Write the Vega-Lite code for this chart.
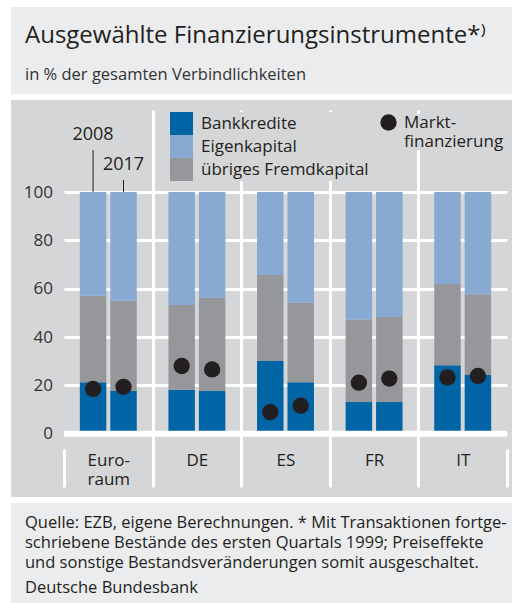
{
  "$schema": "https://vega.github.io/schema/vega-lite/v6.json",
  "background": "white",
  "padding": {"left": 11, "top": 7, "right": 5, "bottom": 1},
  "spacing": 6,
  "config": {
    "font": "Open Sans",
    "view": {"stroke": null},
    "title": {"fontWeight": "normal"}
  },
  "datasets": {
    "anteile": [
      {"land": "Euroraum", "jahr": "2008", "typ": "Bankkredite", "wert": 21.3},
      {"land": "Euroraum", "jahr": "2008", "typ": "übriges Fremdkapital", "wert": 35.8},
      {"land": "Euroraum", "jahr": "2008", "typ": "Eigenkapital", "wert": 42.9},
      {"land": "Euroraum", "jahr": "2017", "typ": "Bankkredite", "wert": 17.7},
      {"land": "Euroraum", "jahr": "2017", "typ": "übriges Fremdkapital", "wert": 37.3},
      {"land": "Euroraum", "jahr": "2017", "typ": "Eigenkapital", "wert": 45.0},
      {"land": "DE", "jahr": "2008", "typ": "Bankkredite", "wert": 18.2},
      {"land": "DE", "jahr": "2008", "typ": "übriges Fremdkapital", "wert": 35.0},
      {"land": "DE", "jahr": "2008", "typ": "Eigenkapital", "wert": 46.8},
      {"land": "DE", "jahr": "2017", "typ": "Bankkredite", "wert": 17.7},
      {"land": "DE", "jahr": "2017", "typ": "übriges Fremdkapital", "wert": 38.6},
      {"land": "DE", "jahr": "2017", "typ": "Eigenkapital", "wert": 43.7},
      {"land": "ES", "jahr": "2008", "typ": "Bankkredite", "wert": 30.1},
      {"land": "ES", "jahr": "2008", "typ": "übriges Fremdkapital", "wert": 35.6},
      {"land": "ES", "jahr": "2008", "typ": "Eigenkapital", "wert": 34.3},
      {"land": "ES", "jahr": "2017", "typ": "Bankkredite", "wert": 21.3},
      {"land": "ES", "jahr": "2017", "typ": "übriges Fremdkapital", "wert": 32.9},
      {"land": "ES", "jahr": "2017", "typ": "Eigenkapital", "wert": 45.8},
      {"land": "FR", "jahr": "2008", "typ": "Bankkredite", "wert": 13.1},
      {"land": "FR", "jahr": "2008", "typ": "übriges Fremdkapital", "wert": 34.1},
      {"land": "FR", "jahr": "2008", "typ": "Eigenkapital", "wert": 52.8},
      {"land": "FR", "jahr": "2017", "typ": "Bankkredite", "wert": 13.1},
      {"land": "FR", "jahr": "2017", "typ": "übriges Fremdkapital", "wert": 35.2},
      {"land": "FR", "jahr": "2017", "typ": "Eigenkapital", "wert": 51.7},
      {"land": "IT", "jahr": "2008", "typ": "Bankkredite", "wert": 28.3},
      {"land": "IT", "jahr": "2008", "typ": "übriges Fremdkapital", "wert": 33.6},
      {"land": "IT", "jahr": "2008", "typ": "Eigenkapital", "wert": 38.1},
      {"land": "IT", "jahr": "2017", "typ": "Bankkredite", "wert": 24.3},
      {"land": "IT", "jahr": "2017", "typ": "übriges Fremdkapital", "wert": 33.4},
      {"land": "IT", "jahr": "2017", "typ": "Eigenkapital", "wert": 42.3}
    ],
    "markt": [
      {"land": "Euroraum", "jahr": "2008", "wert": 18.5},
      {"land": "Euroraum", "jahr": "2017", "wert": 19.4},
      {"land": "DE", "jahr": "2008", "wert": 28.0},
      {"land": "DE", "jahr": "2017", "wert": 26.6},
      {"land": "ES", "jahr": "2008", "wert": 8.9},
      {"land": "ES", "jahr": "2017", "wert": 11.6},
      {"land": "FR", "jahr": "2008", "wert": 21.1},
      {"land": "FR", "jahr": "2017", "wert": 22.8},
      {"land": "IT", "jahr": "2008", "wert": 23.3},
      {"land": "IT", "jahr": "2017", "wert": 23.9}
    ]
  },
  "vconcat": [
    {
      "width": 501,
      "height": 87,
      "view": {"fill": "#ebecee", "stroke": null},
      "title": {
        "text": "Ausgewählte Finanzierungsinstrumente*⁾",
        "subtitle": "in % der gesamten Verbindlichkeiten",
        "anchor": "start",
        "frame": "group",
        "orient": "top",
        "dx": 14,
        "offset": -76,
        "fontSize": 24,
        "fontWeight": "normal",
        "color": "#231f20",
        "subtitleFontSize": 16.5,
        "subtitleColor": "#333333",
        "subtitlePadding": 19
      },
      "data": {"values": [{"t": ""}]},
      "mark": {"type": "text"},
      "encoding": {"text": {"field": "t", "type": "nominal"}}
    },
    {
      "width": 501,
      "height": 397,
      "view": {"fill": "#d5d6d8", "stroke": null},
      "encoding": {
        "x": {
          "field": "land",
          "type": "nominal",
          "sort": ["Euroraum", "DE", "ES", "FR", "IT"],
          "scale": {"range": [53, 496], "paddingInner": 0, "paddingOuter": 0},
          "axis": {
            "title": null,
            "orient": "bottom",
            "offset": -10,
            "domain": false,
            "tickBand": "extent",
            "ticks": true,
            "tickSize": -38,
            "tickColor": "white",
            "tickWidth": 3,
            "grid": true,
            "gridColor": "white",
            "gridWidth": 3,
            "gridOpacity": {"condition": {"test": "datum.index === 1 || datum.index === -1", "value": 0}, "value": 1},
            "labelAngle": 0,
            "labelFontSize": 17,
            "labelColor": "#231f20",
            "labelPadding": 3,
            "labelBaseline": "top",
            "labelLineHeight": 19,
            "labelExpr": "datum.value === 'Euroraum' ? ['Euro-', 'raum'] : datum.label"
          }
        },
        "y": {
          "type": "quantitative",
          "scale": {"domain": [-22.05, 133.1], "range": [387, 12], "nice": false, "zero": false},
          "axis": {
            "title": null,
            "values": [0, 20, 40, 60, 80, 100],
            "domain": false,
            "ticks": false,
            "tickSize": 0,
            "labelPadding": -41.5,
            "labelAlign": "right",
            "labelBaseline": "middle",
            "labelFlush": false,
            "labelFontSize": 17,
            "labelColor": "#333333",
            "grid": true,
            "gridColor": "white",
            "gridWidth": 3
          }
        }
      },
      "layer": [
        {
          "data": {"name": "anteile"},
          "transform": [
            {"calculate": "indexof(['Bankkredite', 'übriges Fremdkapital', 'Eigenkapital'], datum.typ)", "as": "rang"}
          ],
          "mark": {"type": "bar"},
          "encoding": {
            "xOffset": {"field": "jahr", "type": "nominal", "scale": {"paddingInner": 0.13, "paddingOuter": 0.52}},
            "y": {"field": "wert", "type": "quantitative", "stack": "zero"},
            "order": {"field": "rang", "type": "quantitative"},
            "color": {
              "field": "typ",
              "type": "nominal",
              "scale": {
                "domain": ["Bankkredite", "Eigenkapital", "übriges Fremdkapital"],
                "range": ["#0064a5", "#88a9d2", "#96979a"]
              },
              "legend": {
                "title": null,
                "orient": "none",
                "legendX": 159,
                "legendY": 105,
                "symbolType": "square",
                "symbolSize": 529,
                "symbolStrokeWidth": 0,
                "symbolOpacity": 1,
                "labelFontSize": 17,
                "labelOffset": 8,
                "labelLimit": 0,
                "labelColor": "#231f20",
                "rowPadding": 0,
                "padding": 0,
                "fillColor": "#d5d6d8"
              }
            }
          }
        },
        {
          "data": {"name": "markt"},
          "transform": [{"filter": "datum.jahr === '2008'"}],
          "mark": {"type": "tick", "color": "white", "size": 88.6, "thickness": 6, "opacity": 1},
          "encoding": {
            "y": {"datum": 0, "type": "quantitative"}
          }
        },
        {
          "data": {"name": "markt"},
          "mark": {"type": "point", "filled": true, "size": 266, "opacity": 1, "color": "#231f20", "strokeWidth": 0},
          "encoding": {
            "xOffset": {"field": "jahr", "type": "nominal"},
            "y": {"field": "wert", "type": "quantitative"},
            "shape": {
              "datum": "Marktfinanzierung",
              "scale": {"range": ["circle"]},
              "legend": {
                "title": null,
                "orient": "none",
                "legendX": 369,
                "legendY": 107,
                "symbolSize": 266,
                "symbolFillColor": "#231f20",
                "symbolStrokeWidth": 0,
                "symbolOpacity": 1,
                "labelFontSize": 17,
                "labelOffset": 7,
                "labelLineHeight": 20,
                "labelLimit": 0,
                "labelColor": "#231f20",
                "labelExpr": "['Markt-', 'finanzierung']",
                "padding": 0,
                "fillColor": "#d5d6d8"
              }
            }
          }
        },
        {
          "data": {"name": "markt"},
          "transform": [{"filter": "datum.land === 'Euroraum' && datum.jahr === '2008'"}],
          "mark": {"type": "rule", "color": "#231f20", "strokeWidth": 1},
          "encoding": {
            "xOffset": {"field": "jahr", "type": "nominal"},
            "y": {"datum": 100, "type": "quantitative"},
            "y2": {"datum": 117.4}
          }
        },
        {
          "data": {"name": "markt"},
          "transform": [{"filter": "datum.land === 'Euroraum' && datum.jahr === '2017'"}],
          "mark": {"type": "rule", "color": "#231f20", "strokeWidth": 1},
          "encoding": {
            "xOffset": {"field": "jahr", "type": "nominal"},
            "y": {"datum": 100, "type": "quantitative"},
            "y2": {"datum": 105}
          }
        },
        {
          "data": {"name": "markt"},
          "transform": [{"filter": "datum.land === 'Euroraum' && datum.jahr === '2008'"}],
          "mark": {"type": "text", "fontSize": 18, "color": "#231f20", "baseline": "middle"},
          "encoding": {
            "xOffset": {"field": "jahr", "type": "nominal"},
            "y": {"datum": 123.4, "type": "quantitative"},
            "text": {"field": "jahr", "type": "nominal"}
          }
        },
        {
          "data": {"name": "markt"},
          "transform": [{"filter": "datum.land === 'Euroraum' && datum.jahr === '2017'"}],
          "mark": {"type": "text", "fontSize": 18, "color": "#231f20", "baseline": "middle"},
          "encoding": {
            "xOffset": {"field": "jahr", "type": "nominal"},
            "y": {"datum": 111.2, "type": "quantitative"},
            "text": {"field": "jahr", "type": "nominal"}
          }
        }
      ]
    },
    {
      "width": 501,
      "height": 100,
      "view": {"fill": "#ebecee", "stroke": null},
      "title": {
        "text": [
          "Quelle: EZB, eigene Berechnungen. * Mit Transaktionen fortge-",
          "schriebene Bestände des ersten Quartals 1999; Preiseffekte",
          "und sonstige Bestandsveränderungen somit ausgeschaltet."
        ],
        "subtitle": "Deutsche Bundesbank",
        "anchor": "start",
        "frame": "group",
        "orient": "top",
        "dx": 14,
        "offset": -93,
        "fontSize": 16.5,
        "fontWeight": "normal",
        "lineHeight": 20,
        "color": "#231f20",
        "subtitleFontSize": 16.5,
        "subtitleColor": "#231f20",
        "subtitlePadding": 8
      },
      "data": {"values": [{"t": ""}]},
      "mark": {"type": "text"},
      "encoding": {"text": {"field": "t", "type": "nominal"}}
    }
  ]
}
